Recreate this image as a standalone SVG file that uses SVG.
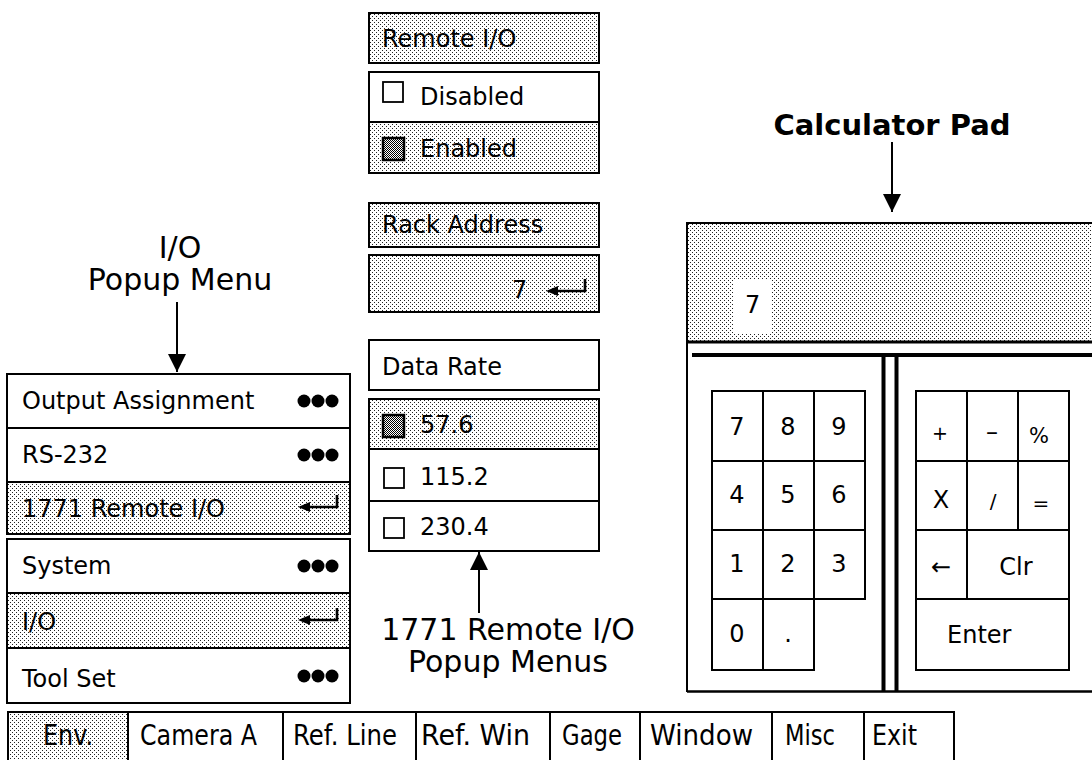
<svg xmlns="http://www.w3.org/2000/svg" xmlns:xlink="http://www.w3.org/1999/xlink" width="1092" height="760" viewBox="0 0 1092 760">
<defs>
<pattern id="dots" width="4" height="4" patternUnits="userSpaceOnUse">
<rect width="4" height="4" fill="#fff"/>
<rect x="0" y="0" width="1" height="1" fill="#222"/>
<rect x="2" y="2" width="1" height="1" fill="#222"/>
</pattern>
<pattern id="dense" width="2" height="2" patternUnits="userSpaceOnUse">
<rect width="2" height="2" fill="#fff"/>
<rect x="0" y="0" width="1" height="1" fill="#000"/>
<rect x="1" y="1" width="1" height="1" fill="#000"/>
</pattern>
<g id="ret">
<path d="M8,0 H39 V-12" fill="none" stroke="#000" stroke-width="2.6"/>
<path d="M0,0 L12,-5 L12,5 Z" fill="#000"/>
</g>
<g id="dots3">
<circle cx="0" cy="0" r="6.5" fill="#000"/>
<circle cx="14" cy="0" r="6.5" fill="#000"/>
<circle cx="28" cy="0" r="6.5" fill="#000"/>
</g>
<marker id="ah" markerWidth="20" markerHeight="20" refX="18" refY="9" orient="auto" markerUnits="userSpaceOnUse">
<path d="M0,0 L18,9 L0,18 Z" fill="#000"/>
</marker>
</defs>
<style>
.t{font-family:"DejaVu Sans","Liberation Sans",sans-serif;font-size:24px;fill:#000}
.lab{font-family:"DejaVu Sans","Liberation Sans",sans-serif;font-size:30px;fill:#000}
.title{font-family:"DejaVu Sans","Liberation Sans",sans-serif;font-size:29px;font-weight:bold;fill:#000}
.bar{font-family:"DejaVu Sans","Liberation Sans",sans-serif;font-size:29px;fill:#000}
.w{fill:#fff;stroke:#000;stroke-width:2}
.s{fill:url(#dots);stroke:#000;stroke-width:2}
.cb{fill:#fff;stroke:#000;stroke-width:1.8}
.cbf{fill:url(#dense);stroke:#000;stroke-width:2.5}
.k{fill:#fff;stroke:#000;stroke-width:2}
.ln{stroke:#000;fill:none}
.c{text-anchor:middle}
</style>
<rect width="1092" height="760" fill="#fff"/>

<!-- Left I/O popup menu -->
<g id="io-menu-top">
<rect class="w" x="7" y="374" width="343" height="54"/>
<rect class="w" x="7" y="428" width="343" height="54"/>
<rect class="s" x="7" y="482" width="343" height="52"/>
<text class="t" x="22" y="409">Output Assignment</text>
<text class="t" x="22" y="463">RS-232</text>
<text class="t" x="22" y="517">1771 Remote I/O</text>
<use xlink:href="#dots3" x="304" y="401"/>
<use xlink:href="#dots3" x="304" y="455"/>
<use xlink:href="#ret" x="298" y="507"/>
</g>
<g id="io-menu-bottom">
<rect class="w" x="7" y="539" width="343" height="54"/>
<rect class="s" x="7" y="593" width="343" height="55"/>
<rect class="w" x="7" y="648" width="343" height="55"/>
<text class="t" x="22" y="574">System</text>
<text class="t" x="22" y="630">I/O</text>
<text class="t" x="22" y="687">Tool Set</text>
<use xlink:href="#dots3" x="304" y="566"/>
<use xlink:href="#ret" x="298" y="620"/>
<use xlink:href="#dots3" x="304" y="676"/>
</g>

<!-- Middle column: 1771 Remote I/O popup menus -->
<g id="remote-io">
<rect class="s" x="369" y="13" width="230" height="50"/>
<text class="t" x="382" y="47">Remote I/O</text>
</g>
<g id="remote-io-options">
<rect class="w" x="369" y="72" width="230" height="50"/>
<rect class="s" x="369" y="122" width="230" height="51"/>
<rect class="cb" x="383" y="82" width="20" height="20"/>
<text class="t" x="420" y="105">Disabled</text>
<rect class="cbf" x="383" y="138" width="21" height="22"/>
<text class="t" x="420" y="157">Enabled</text>
</g>
<g id="rack-address">
<rect class="s" x="369" y="203" width="230" height="44"/>
<text class="t" x="382" y="233">Rack Address</text>
</g>
<g id="rack-value">
<rect class="s" x="369" y="255" width="230" height="57"/>
<text class="t" x="512" y="298">7</text>
<use xlink:href="#ret" x="546" y="291"/>
</g>
<g id="data-rate">
<rect class="w" x="369" y="340" width="230" height="50"/>
<text class="t" x="382" y="375">Data Rate</text>
</g>
<g id="data-rate-options">
<rect class="s" x="369" y="399" width="230" height="50"/>
<rect class="w" x="369" y="449" width="230" height="52"/>
<rect class="w" x="369" y="501" width="230" height="50"/>
<rect class="cbf" x="383" y="415" width="21" height="22"/>
<text class="t" x="420" y="433">57.6</text>
<rect class="cb" x="384" y="468" width="20" height="20"/>
<text class="t" x="420" y="485">115.2</text>
<rect class="cb" x="384" y="518" width="20" height="20"/>
<text class="t" x="420" y="535">230.4</text>
</g>

<!-- Calculator pad -->
<g id="calculator">
<rect x="687" y="223" width="420" height="119" fill="url(#dots)" stroke="#000" stroke-width="2"/>
<rect x="733" y="279" width="38" height="55" fill="#fff"/>
<text class="t" x="745" y="313">7</text>
<line class="ln" x1="687" y1="342" x2="1092" y2="342" stroke-width="3"/>
<line class="ln" x1="687" y1="342" x2="687" y2="692" stroke-width="2"/>
<line class="ln" x1="692" y1="355" x2="1092" y2="355" stroke-width="4"/>
<line class="ln" x1="883.5" y1="355" x2="883.5" y2="692" stroke-width="4"/>
<line class="ln" x1="896.5" y1="355" x2="896.5" y2="692" stroke-width="4"/>
<line class="ln" x1="687" y1="691.5" x2="1092" y2="691.5" stroke-width="2.5"/>
</g>
<g id="keypad-digits">
<rect class="k" x="712" y="391" width="51" height="70"/>
<rect class="k" x="763" y="391" width="51" height="70"/>
<rect class="k" x="814" y="391" width="51" height="70"/>
<rect class="k" x="712" y="461" width="51" height="69"/>
<rect class="k" x="763" y="461" width="51" height="69"/>
<rect class="k" x="814" y="461" width="51" height="69"/>
<rect class="k" x="712" y="530" width="51" height="69"/>
<rect class="k" x="763" y="530" width="51" height="69"/>
<rect class="k" x="814" y="530" width="51" height="69"/>
<rect class="k" x="712" y="599" width="51" height="71"/>
<rect class="k" x="763" y="599" width="51" height="71"/>
<text class="t c" x="737" y="435">7</text>
<text class="t c" x="788" y="435">8</text>
<text class="t c" x="839" y="435">9</text>
<text class="t c" x="737" y="503">4</text>
<text class="t c" x="788" y="503">5</text>
<text class="t c" x="839" y="503">6</text>
<text class="t c" x="737" y="572">1</text>
<text class="t c" x="788" y="572">2</text>
<text class="t c" x="839" y="572">3</text>
<text class="t c" x="737" y="642">0</text>
<text class="t c" x="788" y="642">.</text>
</g>
<g id="keypad-ops">
<rect class="k" x="916" y="391" width="51" height="70"/>
<rect class="k" x="967" y="391" width="51" height="70"/>
<rect class="k" x="1018" y="391" width="51" height="70"/>
<rect class="k" x="916" y="461" width="51" height="69"/>
<rect class="k" x="967" y="461" width="51" height="69"/>
<rect class="k" x="1018" y="461" width="51" height="69"/>
<rect class="k" x="916" y="530" width="51" height="69"/>
<rect class="k" x="967" y="530" width="102" height="69"/>
<rect class="k" x="916" y="599" width="153" height="71"/>
<text class="t c" x="940" y="440" style="font-size:19px">+</text>
<text class="t c" x="992" y="440">–</text>
<text class="t c" x="1039" y="443" style="font-size:21px">%</text>
<text class="t c" x="941" y="508">X</text>
<text class="t c" x="993" y="508" style="font-size:20px">/</text>
<text class="t c" x="1041" y="510" style="font-size:20px">=</text>
<text class="t c" x="941" y="575">←</text>
<text class="t c" x="1016" y="575">Clr</text>
<text class="t" x="947" y="643">Enter</text>
</g>

<!-- Bottom menu bar -->
<g id="menu-bar">
<rect class="s" x="8" y="712" width="120" height="60"/>
<rect class="w" x="128" y="712" width="155" height="60"/>
<rect class="w" x="283" y="712" width="133" height="60"/>
<rect class="w" x="416" y="712" width="134" height="60"/>
<rect class="w" x="550" y="712" width="90" height="60"/>
<rect class="w" x="640" y="712" width="132" height="60"/>
<rect class="w" x="772" y="712" width="92" height="60"/>
<rect class="w" x="864" y="712" width="90" height="60"/>
<text class="bar" x="43" y="745" textLength="50" lengthAdjust="spacingAndGlyphs">Env.</text>
<text class="bar" x="140" y="745" textLength="117" lengthAdjust="spacingAndGlyphs">Camera A</text>
<text class="bar" x="293" y="745" textLength="104" lengthAdjust="spacingAndGlyphs">Ref. Line</text>
<text class="bar" x="421" y="745" textLength="109" lengthAdjust="spacingAndGlyphs">Ref. Win</text>
<text class="bar" x="562" y="745" textLength="60" lengthAdjust="spacingAndGlyphs">Gage</text>
<text class="bar" x="650" y="745" textLength="103" lengthAdjust="spacingAndGlyphs">Window</text>
<text class="bar" x="785" y="745" textLength="50" lengthAdjust="spacingAndGlyphs">Misc</text>
<text class="bar" x="872" y="745" textLength="45" lengthAdjust="spacingAndGlyphs">Exit</text>
</g>

<!-- Labels -->
<g id="label-io-popup">
<text class="lab c" x="180" y="258">I/O</text>
<text class="lab c" x="180" y="290">Popup Menu</text>
</g>
<g id="label-calculator">
<text class="title c" x="892" y="135">Calculator Pad</text>
</g>
<g id="label-remote-popup">
<text class="lab c" x="508" y="640">1771 Remote I/O</text>
<text class="lab c" x="508" y="672">Popup Menus</text>
</g>

<!-- Connectors -->
<g id="connectors">
<line class="ln" x1="177" y1="302" x2="177" y2="372" stroke-width="2" marker-end="url(#ah)"/>
<line class="ln" x1="892" y1="142" x2="892" y2="212" stroke-width="2" marker-end="url(#ah)"/>
<line class="ln" x1="479" y1="613" x2="479" y2="552" stroke-width="2" marker-end="url(#ah)"/>
</g>
</svg>
